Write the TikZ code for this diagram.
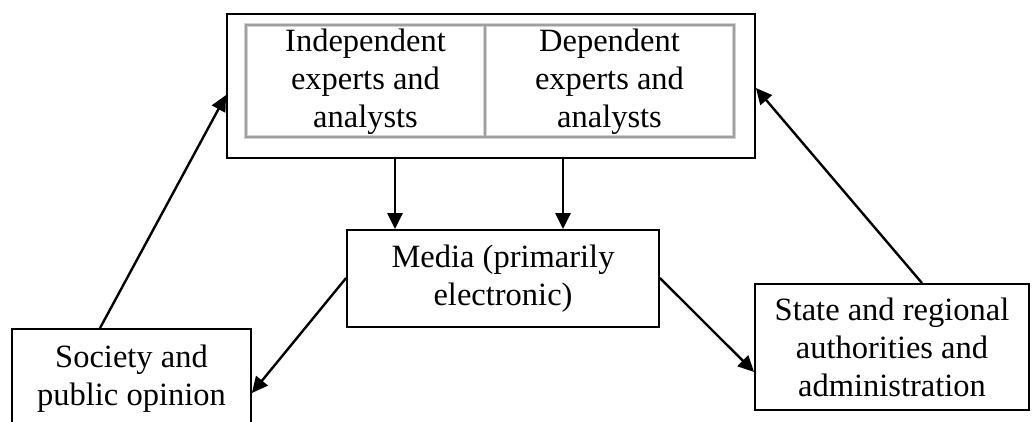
\documentclass[tikz,border=0pt]{standalone}
\usepackage{fontspec}
\setmainfont{Liberation Serif}
\usetikzlibrary{arrows.meta}
\begin{document}
\begin{tikzpicture}[x=1pt,y=1pt,
  box/.style={draw=black,line width=1.8pt,rectangle,inner sep=0pt,align=center,
    font=\fontsize{32.5}{38}\selectfont},
  txt/.style={align=center,inner sep=0pt,font=\fontsize{32.5}{38}\selectfont},
  arr/.style={line width=2.4pt,-{Triangle[length=16pt,width=15pt]}},
  cellshade/.style={draw=gray!35,line width=3.2pt},
  cell/.style={draw=gray!75,line width=1.3pt}]
\useasboundingbox (0,0) rectangle (1032,421);
% top outer box
\node[box,minimum width=528pt,minimum height=144pt] (top) at (491,335) {};
\draw[cellshade] (246,396) rectangle (734,284);
\draw[cellshade] (485,396) -- (485,284);
\draw[cell] (246,396) rectangle (734,284);
\draw[cell] (485,396) -- (485,284);
\node[txt] (indep) at (365.5,339) {Independent\\experts and\\analysts};
\node[txt] (dep) at (609.5,339) {Dependent\\experts and\\analysts};
% media
\node[box,minimum width=312pt,minimum height=97pt] (media) at (503,142.5) {Media (primarily\\electronic)};
% society
\node[box,minimum width=239pt,minimum height=99pt] (society) at (131.5,42.5) {Society and\\public opinion};
% state
\node[box,minimum width=274pt,minimum height=126pt] (state) at (892,74) {State and regional\\authorities and\\administration};
% coordinates for connector ends
\coordinate (d1) at (395,0);
\coordinate (d2) at (563,0);
\coordinate (sA) at (100,0);
\coordinate (tL) at (0,326);
\coordinate (stA) at (922,0);
\coordinate (tR) at (0,333);
\coordinate (mY) at (0,143);
\coordinate (soY) at (0,28);
\coordinate (stY) at (0,49);
% arrows
\draw[arr] (top.south -| d1) -- (media.north -| d1);
\draw[arr] (top.south -| d2) -- (media.north -| d2);
\draw[arr] (society.north -| sA) -- (top.west |- tL);
\draw[arr] (state.north -| stA) -- (top.east |- tR);
\draw[arr] (media.west |- mY) -- (society.east |- soY);
\draw[arr] (media.east |- mY) -- (state.west |- stY);
\end{tikzpicture}
\end{document}
